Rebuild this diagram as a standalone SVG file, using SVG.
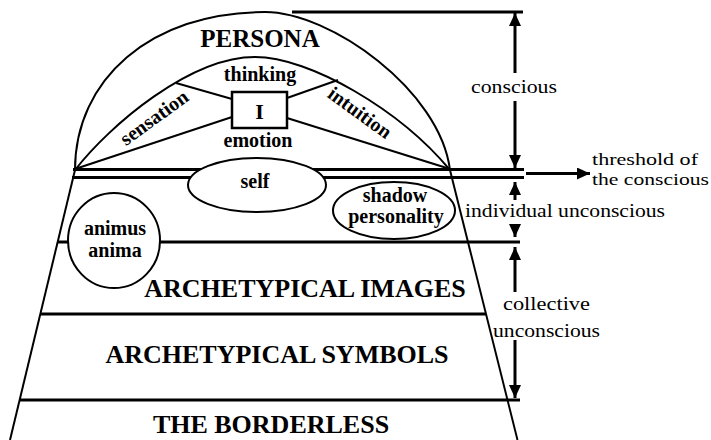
<svg xmlns="http://www.w3.org/2000/svg" width="711" height="440" viewBox="0 0 711 440">
<defs>
<marker id="ah" markerUnits="userSpaceOnUse" markerWidth="13" markerHeight="12" refX="13" refY="6" orient="auto"><path d="M0,0 L13,6 L0,12 Z" fill="#000"/></marker>
</defs>
<style>
.ln{stroke:#000;fill:none;stroke-width:2}
.hl{stroke:#000;fill:none;stroke-width:3}
.sh{stroke:#000;fill:#fff;stroke-width:2}
.b{font-family:"Liberation Serif","Times New Roman",serif;font-weight:bold;fill:#000;text-anchor:middle}
.r{font-family:"Liberation Serif","Times New Roman",serif;fill:#000;font-size:19px}
.cap{font-size:26px}
.sm{font-size:20px}
.ar{stroke:#000;stroke-width:3;fill:none;marker-end:url(#ah)}
</style>
<rect width="711" height="440" fill="#fff"/>
<g id="structure">
<path class="ln" d="M75,170 C75,80 150,12 265,12 C330,12 440,90 450,170"/>
<path class="ln" d="M75,170 C110,125 190,57 255,57 C310,57 400,110 450,170"/>
<line class="ln" x1="75" y1="170" x2="10" y2="440"/>
<line class="ln" x1="450" y1="170" x2="517.5" y2="440"/>
<line class="hl" x1="292" y1="12" x2="523" y2="12"/>
<line class="hl" x1="73" y1="169.5" x2="524" y2="169.5"/>
<line class="hl" x1="72" y1="177.5" x2="524" y2="177.5"/>
<line class="hl" x1="58" y1="242" x2="520" y2="242"/>
<line class="hl" x1="40" y1="314" x2="486" y2="314"/>
<line class="hl" x1="20" y1="400" x2="520" y2="400"/>
<line class="ln" x1="75" y1="169" x2="232" y2="117"/>
<line class="ln" x1="176" y1="83" x2="232" y2="99"/>
<line class="ln" x1="338" y1="80" x2="287" y2="98"/>
<line class="ln" x1="450" y1="169" x2="287" y2="118"/>
</g>
<g id="persona"><text class="b" x="260" y="47" style="font-size:25px">PERSONA</text></g>
<g id="ego">
<rect x="232" y="92" width="55" height="36" fill="#fff" stroke="#000" stroke-width="2.5"/>
<text class="b" x="259.5" y="119" style="font-size:22px">I</text>
</g>
<g id="thinking"><text class="b sm" x="260" y="81">thinking</text></g>
<g id="emotion"><text class="b sm" x="258" y="147">emotion</text></g>
<g id="sensation"><text class="b sm" transform="translate(158,123) rotate(-36)">sensation</text></g>
<g id="intuition"><text class="b sm" transform="translate(356,118) rotate(36)">intuition</text></g>
<g id="self">
<ellipse class="sh" cx="257" cy="185" rx="69" ry="27"/>
<text class="b sm" x="255" y="188">self</text>
</g>
<g id="shadow">
<ellipse class="sh" cx="394" cy="210.5" rx="61" ry="28.5"/>
<text class="b sm" x="395" y="202">shadow</text>
<text class="b sm" x="396" y="223">personality</text>
</g>
<g id="animus">
<ellipse class="sh" cx="114" cy="240.5" rx="46" ry="47.5"/>
<text class="b sm" x="115" y="235">animus</text>
<text class="b sm" x="115" y="257">anima</text>
</g>
<g id="images"><text class="b cap" x="305" y="297">ARCHETYPICAL IMAGES</text></g>
<g id="symbols"><text class="b cap" x="277" y="363">ARCHETYPICAL SYMBOLS</text></g>
<g id="borderless"><text class="b cap" x="271" y="433">THE BORDERLESS</text></g>
<g id="connectors">
<line class="ar" x1="515" y1="73" x2="515" y2="13"/>
<line class="ar" x1="515" y1="101" x2="515" y2="168"/>
<line class="ar" x1="526" y1="173.5" x2="590" y2="173.5"/>
<line class="ar" x1="515" y1="200" x2="515" y2="182"/>
<line class="ar" x1="515" y1="224" x2="515" y2="237"/>
<line class="ar" x1="515" y1="292" x2="515" y2="247"/>
<line class="ar" x1="515" y1="340" x2="515" y2="398"/>
</g>
<g id="labels">
<text class="r" x="471" y="93" textLength="86" lengthAdjust="spacingAndGlyphs">conscious</text>
<text class="r" x="592" y="165" textLength="106" lengthAdjust="spacingAndGlyphs" style="font-size:17px">threshold of</text>
<text class="r" x="592" y="184.5" textLength="117" lengthAdjust="spacingAndGlyphs" style="font-size:17px">the conscious</text>
<text class="r" x="465" y="217" textLength="200" lengthAdjust="spacingAndGlyphs">individual unconscious</text>
<text class="r" x="503" y="310" textLength="87" lengthAdjust="spacingAndGlyphs">collective</text>
<text class="r" x="493" y="337" textLength="107" lengthAdjust="spacingAndGlyphs">unconscious</text>
</g>
</svg>
